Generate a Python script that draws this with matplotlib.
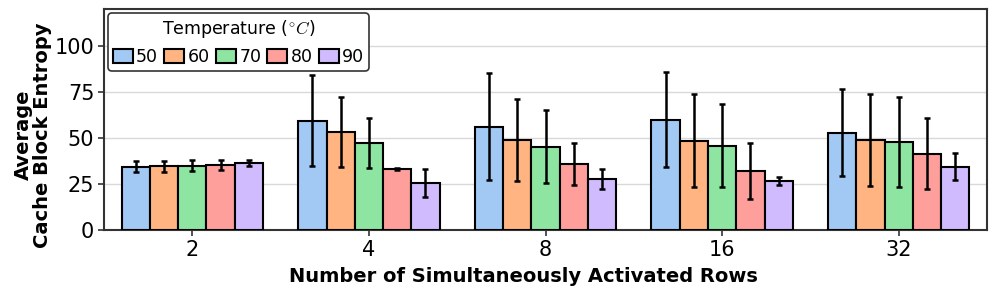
import numpy as np
import matplotlib
matplotlib.use("Agg")
import matplotlib.pyplot as plt

# Data
row_counts = ["2", "4", "8", "16", "32"]
temperatures = ["50", "60", "70", "80", "90"]

# mean entropy per temperature (one list per temperature, across row counts)
entropy_mean = {
    "50": [34.4, 59.4, 56.0, 59.8, 52.9],
    "60": [34.6, 53.3, 48.9, 48.4, 48.9],
    "70": [35.0, 47.1, 45.3, 45.7, 47.7],
    "80": [35.3, 33.0, 35.9, 32.2, 41.5],
    "90": [36.2, 25.5, 27.7, 26.8, 34.4],
}
# half-length of the error bars
entropy_err = {
    "50": [2.9, 24.7, 29.0, 25.8, 23.6],
    "60": [2.9, 18.9, 22.1, 25.3, 24.8],
    "70": [2.8, 13.5, 19.7, 22.6, 24.6],
    "80": [2.8, 0.5, 11.6, 15.1, 19.1],
    "90": [1.7, 7.8, 5.4, 2.2, 7.2],
}

colors = ["#a1c9f4", "#ffb482", "#8de5a1", "#ff9f9b", "#d0bbff"]

plt.rcParams["font.family"] = ["DejaVu Sans"]
plt.rcParams["mathtext.fontset"] = "cm"

fig = plt.figure(figsize=(9.96, 2.98), dpi=100)
ax = fig.add_axes([0.1044, 0.228, 0.8866, 0.742])

x = np.arange(len(row_counts))
width = 0.16
for i, temp in enumerate(temperatures):
    offs = (i - 2) * width
    ax.bar(x + offs, entropy_mean[temp], width, color=colors[i],
           edgecolor="black", linewidth=1.5, label=temp, zorder=3)
    ax.errorbar(x + offs, entropy_mean[temp], yerr=entropy_err[temp],
                fmt="none", ecolor="black", elinewidth=1.8, capsize=2,
                capthick=1.8, zorder=4)

ax.set_xlim(-0.5, 4.5)
ax.set_ylim(0, 120)
ax.set_yticks([0, 25, 50, 75, 100])
ax.set_xticks(x)
ax.set_xticklabels(row_counts)
ax.tick_params(labelsize=15, color="#333333", width=1.2, length=4, pad=3)
ax.yaxis.grid(True, color="#d9d9d9", linewidth=1, zorder=0)
for s in ax.spines.values():
    s.set_color("#333333")
    s.set_linewidth(1.5)

ax.set_xlabel("Number of Simultaneously Activated Rows", fontsize=14,
              fontweight="bold")
ax.xaxis.set_label_coords(0.4745, -0.165)
ax.set_ylabel("Average\nCache Block Entropy", fontsize=14,
              fontweight="bold", linespacing=1.0)
ax.yaxis.set_label_coords(-0.059, 0.43)

leg = ax.legend(title=r"Temperature ($^{\circ}C$)", ncol=5, loc="upper left",
                fontsize=12.5, title_fontsize=12.5, handlelength=1.15,
                handleheight=0.85, handletextpad=0.2, columnspacing=0.35,
                borderpad=0.25, borderaxespad=0.25, fancybox=True,
                framealpha=1.0)
leg.get_frame().set_edgecolor("#333333")
leg.get_frame().set_linewidth(1.2)

fig.savefig("out.png", dpi=100)
